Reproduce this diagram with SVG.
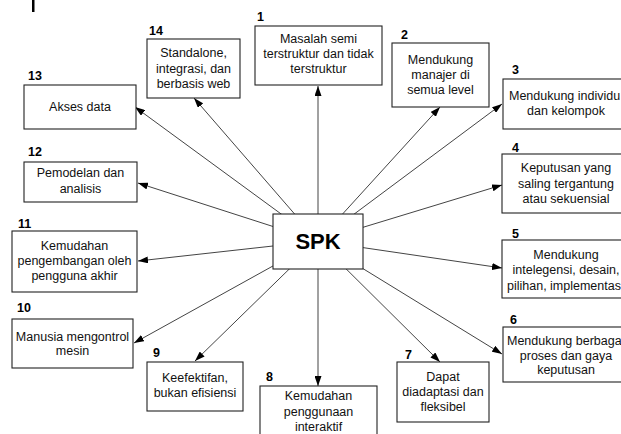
<svg xmlns="http://www.w3.org/2000/svg" width="621" height="434" viewBox="0 0 621 434">
  <style>
    .box { fill: #fff; stroke: #222; stroke-width: 1.1; }
    .t { font-family: "Liberation Sans", Arial, sans-serif; font-size: 12.5px; fill: #111; text-anchor: middle; }
    .ts { text-anchor: start; }
    .num { font-family: "Liberation Sans", Arial, sans-serif; font-size: 12.5px; font-weight: bold; fill: #000; }
    .conn line { stroke: #444; stroke-width: 1; marker-end: url(#arrow); }
    .hub { font-family: "Liberation Sans", Arial, sans-serif; font-size: 22px; font-weight: bold; fill: #000; text-anchor: middle; }
  </style>
  <defs>
    <marker id="arrow" markerUnits="userSpaceOnUse" markerWidth="10" markerHeight="7" refX="10" refY="3.5" orient="auto">
      <path d="M0,0 L10,3.5 L0,7 z" fill="#000"/>
    </marker>
  </defs>

  <rect x="0" y="0" width="621" height="434" fill="#fff"/>
  <rect x="32" y="0" width="2.5" height="12" fill="#000"/>

  <!-- connectors radiate from the hub centre; hub box is painted over them -->
  <g id="connectors" class="conn">
    <line x1="318" y1="241" x2="318" y2="86"/>
    <line x1="318" y1="241" x2="440" y2="107"/>
    <line x1="318" y1="241" x2="502" y2="104"/>
    <line x1="318" y1="241" x2="502" y2="185"/>
    <line x1="318" y1="241" x2="502" y2="268"/>
    <line x1="318" y1="241" x2="502" y2="354"/>
    <line x1="318" y1="241" x2="440" y2="362"/>
    <line x1="318" y1="241" x2="318" y2="386"/>
    <line x1="318" y1="241" x2="195" y2="361"/>
    <line x1="318" y1="241" x2="134" y2="343"/>
    <line x1="318" y1="241" x2="138" y2="261"/>
    <line x1="318" y1="241" x2="138" y2="183"/>
    <line x1="318" y1="241" x2="135" y2="107"/>
    <line x1="318" y1="241" x2="194" y2="98"/>
  </g>

  <g id="spk">
    <rect class="box" x="273" y="214" width="90" height="55"/>
    <text class="hub" x="318" y="249">SPK</text>
  </g>

  <g id="node1">
    <text class="num" x="257" y="21">1</text>
    <rect class="box" x="255" y="26" width="127" height="59"/>
    <text class="t" x="318.5" y="43">Masalah semi</text>
    <text class="t" x="318.5" y="58">terstruktur dan tidak</text>
    <text class="t" x="318.5" y="73">terstruktur</text>
  </g>

  <g id="node2">
    <text class="num" x="401" y="39">2</text>
    <rect class="box" x="392" y="43" width="97" height="64"/>
    <text class="t" x="440.5" y="64">Mendukung</text>
    <text class="t" x="440.5" y="79">manajer di</text>
    <text class="t" x="440.5" y="94">semua level</text>
  </g>

  <g id="node3">
    <text class="num" x="512" y="74">3</text>
    <rect class="box" x="503" y="79" width="130" height="50"/>
    <text class="t ts" x="509" y="100">Mendukung individu</text>
    <text class="t" x="566" y="115">dan kelompok</text>
  </g>

  <g id="node4">
    <text class="num" x="512" y="152">4</text>
    <rect class="box" x="502" y="154" width="130" height="59"/>
    <text class="t" x="566" y="172">Keputusan yang</text>
    <text class="t" x="566" y="187.5">saling tergantung</text>
    <text class="t" x="566" y="203">atau sekuensial</text>
  </g>

  <g id="node5">
    <text class="num" x="512" y="238">5</text>
    <rect class="box" x="502" y="240" width="130" height="58"/>
    <text class="t" x="566" y="258.5">Mendukung</text>
    <text class="t" x="566" y="274">intelegensi, desain,</text>
    <text class="t ts" x="507" y="289.5">pilihan, implementas</text>
  </g>

  <g id="node6">
    <text class="num" x="510" y="324">6</text>
    <rect class="box" x="503" y="327" width="130" height="55"/>
    <text class="t ts" x="507" y="345">Mendukung berbaga</text>
    <text class="t" x="566" y="359.5">proses dan gaya</text>
    <text class="t" x="566" y="374">keputusan</text>
  </g>

  <g id="node7">
    <text class="num" x="405" y="359">7</text>
    <rect class="box" x="397" y="362" width="92" height="60"/>
    <text class="t" x="443" y="381">Dapat</text>
    <text class="t" x="443" y="396">diadaptasi dan</text>
    <text class="t" x="443" y="411">fleksibel</text>
  </g>

  <g id="node8">
    <text class="num" x="266" y="381">8</text>
    <rect class="box" x="260" y="386" width="117" height="60"/>
    <text class="t" x="318.5" y="400">Kemudahan</text>
    <text class="t" x="318.5" y="415.5">penggunaan</text>
    <text class="t" x="318.5" y="431">interaktif</text>
  </g>

  <g id="node9">
    <text class="num" x="153" y="357">9</text>
    <rect class="box" x="147" y="362" width="96" height="49"/>
    <text class="t" x="195" y="381.5">Keefektifan,</text>
    <text class="t" x="195" y="396.5">bukan efisiensi</text>
  </g>

  <g id="node10">
    <text class="num" x="17" y="312">10</text>
    <rect class="box" x="12" y="319" width="121" height="49"/>
    <text class="t" x="72.5" y="340.5">Manusia mengontrol</text>
    <text class="t" x="72.5" y="355">mesin</text>
  </g>

  <g id="node11">
    <text class="num" x="18" y="228">11</text>
    <rect class="box" x="12" y="231" width="125" height="61"/>
    <text class="t" x="74.5" y="250">Kemudahan</text>
    <text class="t" x="74.5" y="265">pengembangan oleh</text>
    <text class="t" x="74.5" y="280">pengguna akhir</text>
  </g>

  <g id="node12">
    <text class="num" x="28" y="156">12</text>
    <rect class="box" x="24" y="162" width="113" height="40"/>
    <text class="t" x="80.5" y="177">Pemodelan dan</text>
    <text class="t" x="80.5" y="192.5">analisis</text>
  </g>

  <g id="node13">
    <text class="num" x="28" y="80">13</text>
    <rect class="box" x="24" y="85" width="112" height="44"/>
    <text class="t" x="80" y="111">Akses data</text>
  </g>

  <g id="node14">
    <text class="num" x="149" y="35">14</text>
    <rect class="box" x="147" y="39" width="93" height="59"/>
    <text class="t" x="193.5" y="57">Standalone,</text>
    <text class="t" x="193.5" y="72.5">integrasi, dan</text>
    <text class="t" x="193.5" y="88">berbasis web</text>
  </g>
</svg>
